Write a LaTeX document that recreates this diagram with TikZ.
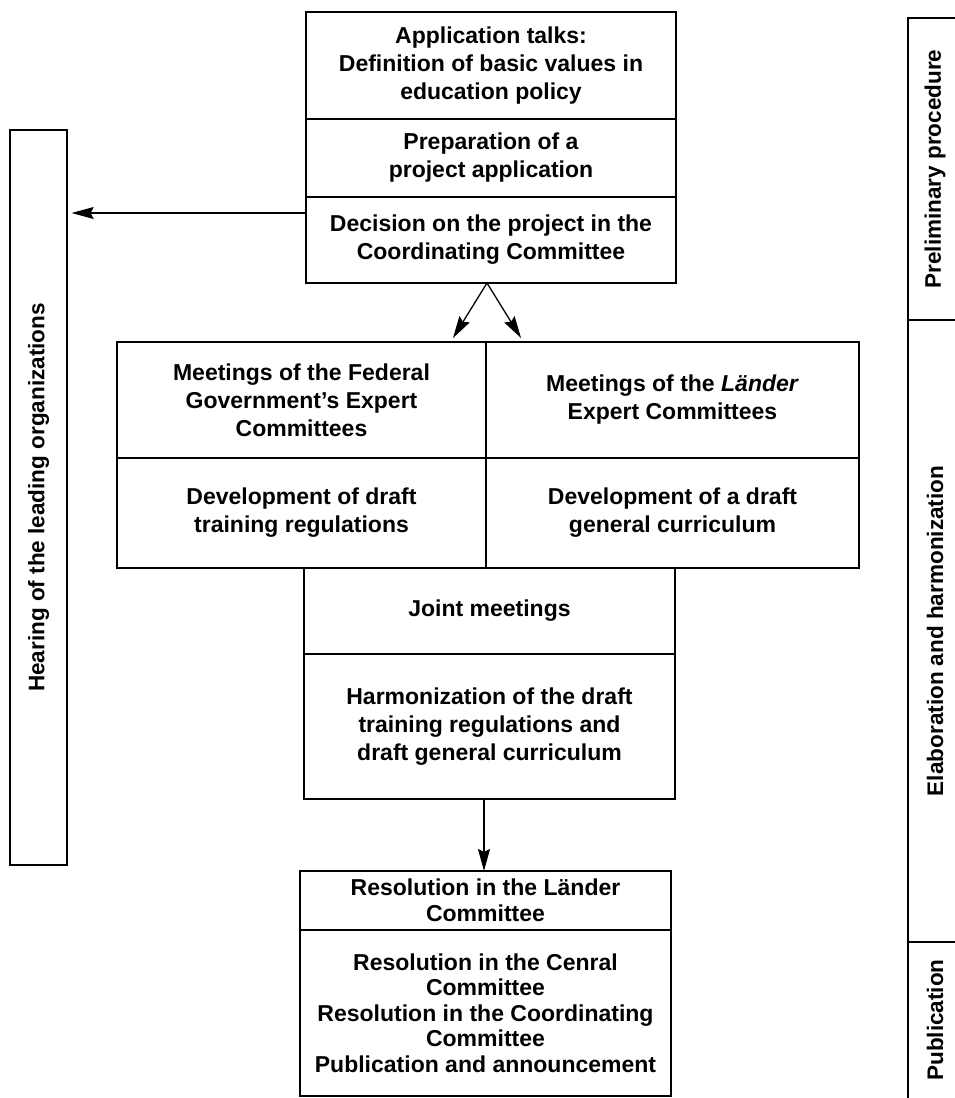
\documentclass[tikz,border=0pt]{standalone}
\usepackage{fontspec}
\setmainfont{Liberation Sans}
\usetikzlibrary{arrows.meta}
\begin{document}
\begin{tikzpicture}[x=1pt,y=-1pt,
  cell/.style={draw, line width=1.3pt, align=center, inner sep=0pt,
    font=\bfseries\fontsize{23}{28}\selectfont},
  side/.style={rotate=90, inner sep=0pt, font=\bfseries\fontsize{22.5}{27}\selectfont},
  arr/.style={line width=1.3pt, -{Stealth[length=22pt,width=12pt,inset=3pt]}},
  frame/.style={line width=1.3pt}]
\useasboundingbox (0,0) rectangle (954,1098);

% top box
\node[cell, minimum width=370pt, minimum height=107pt] (t1) at (491,65.5)
  {Application talks:\\Definition of basic values in\\education policy};
\node[cell, minimum width=370pt, minimum height=78pt] (t2) at (491,158)
  {Preparation of a\\project application};
\node[cell, minimum width=370pt, minimum height=86pt] (t3) at (491,240)
  {Decision on the project in the\\Coordinating Committee};

% grid
\node[cell, minimum width=369pt, minimum height=116pt] (g1) at (301.5,400)
  {Meetings of the Federal\\Government’s Expert\\Committees};
\node[cell, minimum width=373pt, minimum height=116pt] (g2) at (672.5,400)
  {Meetings of the \textit{Länder}\\Expert Committees};
\node[cell, minimum width=369pt, minimum height=110pt] (g3) at (301.5,513)
  {Development of draft\\training regulations};
\node[cell, minimum width=373pt, minimum height=110pt] (g4) at (672.5,513)
  {Development of a draft\\general curriculum};

% joint
\node[cell, minimum width=371pt, minimum height=86pt] (j1) at (489.5,611)
  {Joint meetings};
\node[cell, minimum width=371pt, minimum height=145pt] (j2) at (489.5,726.5)
  {Harmonization of the draft\\training regulations and\\draft general curriculum};

% bottom
\node[cell, minimum width=371pt, minimum height=59pt, font=\bfseries\fontsize{23}{25.5}\selectfont] (b1) at (485.5,900.5)
  {Resolution in the Länder\\Committee};
\node[cell, minimum width=371pt, minimum height=166pt, font=\bfseries\fontsize{23}{25.5}\selectfont] (b2) at (485.5,1013)
  {Resolution in the Cenral\\Committee\\Resolution in the Coordinating\\Committee\\Publication and announcement};

% left bar
\node[cell, minimum width=57pt, minimum height=735pt] (hear) at (38.5,497.5) {};
\node[side] (hearlbl) at (hear.center) {Hearing of the leading organizations};

% right bar
\coordinate (r0) at (908,18);  \coordinate (e0) at (956,18);
\coordinate (r1) at (908,320); \coordinate (e1) at (956,320);
\coordinate (r2) at (908,942); \coordinate (e2) at (956,942);
\coordinate (r3) at (908,1100);
\draw[frame] (e0) -- (r0) -- (r3);
\draw[frame] (r1) -- (e1);
\draw[frame] (r2) -- (e2);
\node[side] (pp) at (935,169) {Preliminary procedure};
\node[side] (eh) at (935,631) {Elaboration and harmonization};
\node[side] (pub) at (935,1020) {Publication};

% arrows
\coordinate (la) at (306,213);
\draw[arr, shorten >=4pt] (la) -- (la -| hear.east);
\coordinate (apex) at (487,283);
\coordinate (ta) at (453,338);
\coordinate (tb) at (521,338);
\draw[arr] (apex) -- (ta);
\draw[arr] (apex) -- (tb);
\coordinate (ds) at (484,799);
\coordinate (de) at (484,871);
\draw[arr] (ds) -- (de);
\end{tikzpicture}
\end{document}
